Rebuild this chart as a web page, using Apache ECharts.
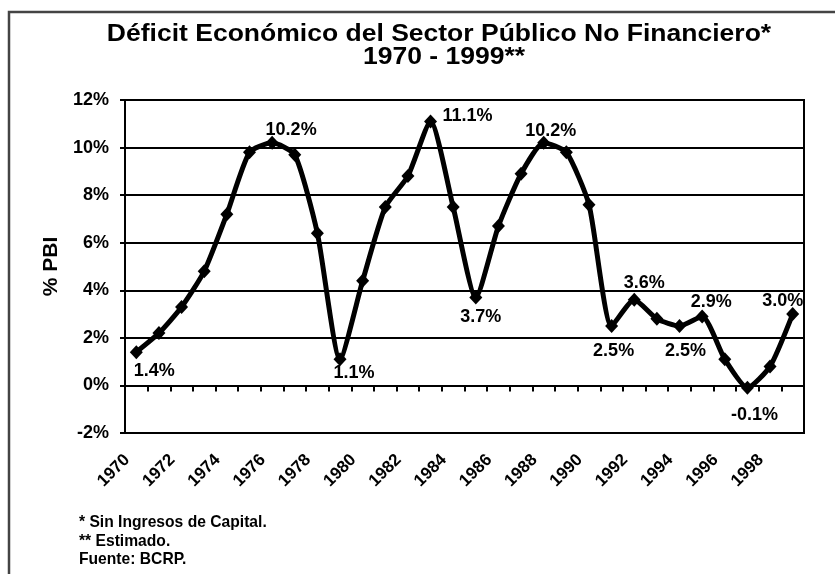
<!DOCTYPE html>
<html>
<head>
<meta charset="utf-8">
<script src="https://cdn.jsdelivr.net/npm/echarts@6/dist/echarts.min.js"></script>
<style>
  html, body { margin: 0; padding: 0; background: #fff; }
  #chart { width: 835px; height: 574px; }
</style>
</head>
<body>
<div id="chart"></div>
<script>
// Déficit económico del SPNF, % del PBI, 1970-1999
const years = ['1970','1971','1972','1973','1974','1975','1976','1977','1978','1979',
               '1980','1981','1982','1983','1984','1985','1986','1987','1988','1989',
               '1990','1991','1992','1993','1994','1995','1996','1997','1998','1999'];
const deficit = [1.4, 2.2, 3.3, 4.8, 7.2, 9.8, 10.2, 9.7, 6.4, 1.1,
                 4.4, 7.5, 8.8, 11.1, 7.5, 3.7, 6.7, 8.9, 10.2, 9.8,
                 7.6, 2.5, 3.6, 2.8, 2.5, 2.9, 1.1, -0.1, 0.8, 3.0];
const titleLines = ['Déficit Económico del Sector Público No Financiero*', '1970 - 1999**'];
const yAxisTitle = '% PBI';
const footnotes = ['* Sin Ingresos de Capital.', '** Estimado.', 'Fuente: BCRP.'];
const labelledYears = ['1970','1976','1979','1983','1985','1988','1991','1992','1994','1995','1997','1999'];

// where each value label sits relative to its marker
const labelOffsets = {
  '1970': [18, 19], '1976': [19, -13], '1979': [14, 14], '1983': [37, -5],
  '1985': [5, 20],  '1988': [7, -12],  '1991': [2, 25],  '1992': [10, -17],
  '1994': [6, 25],  '1995': [9, -14],  '1997': [7, 27],  '1999': [-10, -13]
};

const FONT = '"Liberation Sans", Arial, Helvetica, sans-serif';

const seriesData = deficit.map((v, i) => {
  const yr = years[i];
  if (labelledYears.indexOf(yr) < 0) return v;
  return {
    value: v,
    label: {
      show: true,
      position: 'inside',
      offset: labelOffsets[yr],
      formatter: p => p.value.toFixed(1) + '%'
    }
  };
});

function headerText(str, x, y, size, align, scaleX) {
  return {
    type: 'text', x: x, y: y, scaleX: scaleX, silent: true,
    style: {
      text: str, font: 'bold ' + size + 'px ' + FONT, fill: '#000',
      textAlign: align, textVerticalAlign: 'middle'
    }
  };
}

const chart = echarts.init(document.getElementById('chart'), null, { renderer: 'canvas' });

chart.setOption({
  animation: false,
  backgroundColor: '#fff',
  textStyle: { fontFamily: FONT },
  grid: { left: 125, right: 31, top: 100, bottom: 141, show: true, borderColor: '#000', borderWidth: 2 },
  graphic: [
    { type: 'rect', shape: { x: 9, y: 12, width: 900, height: 700 }, style: { fill: null, stroke: '#444', lineWidth: 2.5 }, silent: true },
    headerText(titleLines[0], 439, 35, 23.5, 'center', 1.128),
    headerText(titleLines[1], 444, 58, 23.5, 'center', 1.128),
    headerText(footnotes[0], 79, 522, 17, 'left', 0.92),
    headerText(footnotes[1], 79, 541, 17, 'left', 0.92),
    headerText(footnotes[2], 79, 559, 17, 'left', 0.92)
  ],
  xAxis: [
    {
      // year labels along the bottom of the plot
      type: 'category',
      data: years,
      boundaryGap: true,
      position: 'bottom',
      axisLine: { show: false, onZero: false },
      axisTick: { show: false },
      splitLine: { show: false },
      axisLabel: {
        interval: 1,
        rotate: 45,
        margin: 15,
        formatter: v => '{y|' + v + '}{g| }',
        rich: {
          y: { color: '#000', fontWeight: 'bold', fontSize: 17, fontFamily: FONT },
          g: { width: 13, fontSize: 17 }
        }
      }
    },
    {
      // category axis line crossing at 0 %
      type: 'category',
      data: years,
      boundaryGap: true,
      position: 'bottom',
      axisLine: { show: true, onZero: true, lineStyle: { color: '#000', width: 2 } },
      axisTick: { show: true, interval: 0, length: 6, lineStyle: { color: '#000', width: 2 } },
      axisLabel: { show: false },
      splitLine: { show: false }
    }
  ],
  yAxis: {
    type: 'value',
    min: -2,
    max: 12,
    interval: 2,
    name: yAxisTitle,
    nameLocation: 'middle',
    nameGap: 52,
    nameRotate: 90,
    nameTextStyle: { color: '#000', fontWeight: 'bold', fontSize: 21, fontFamily: FONT },
    axisLine: { show: true, lineStyle: { color: '#000', width: 2 } },
    axisTick: { show: true, length: 5, lineStyle: { color: '#000', width: 2 } },
    axisLabel: {
      formatter: '{value}%',
      margin: 16,
      color: '#000',
      fontWeight: 'bold',
      fontSize: 18,
      fontFamily: FONT
    },
    splitLine: { show: true, lineStyle: { color: '#000', width: 2 } }
  },
  series: [{
    type: 'line',
    xAxisIndex: 1,
    data: seriesData,
    smooth: 0.2,
    symbol: 'diamond',
    symbolSize: [13, 14],
    lineStyle: { color: '#000', width: 5 },
    itemStyle: { color: '#000' },
    label: {
      color: '#000',
      fontWeight: 'bold',
      fontSize: 18,
      fontFamily: FONT
    },
    z: 5
  }]
});
</script>
</body>
</html>
